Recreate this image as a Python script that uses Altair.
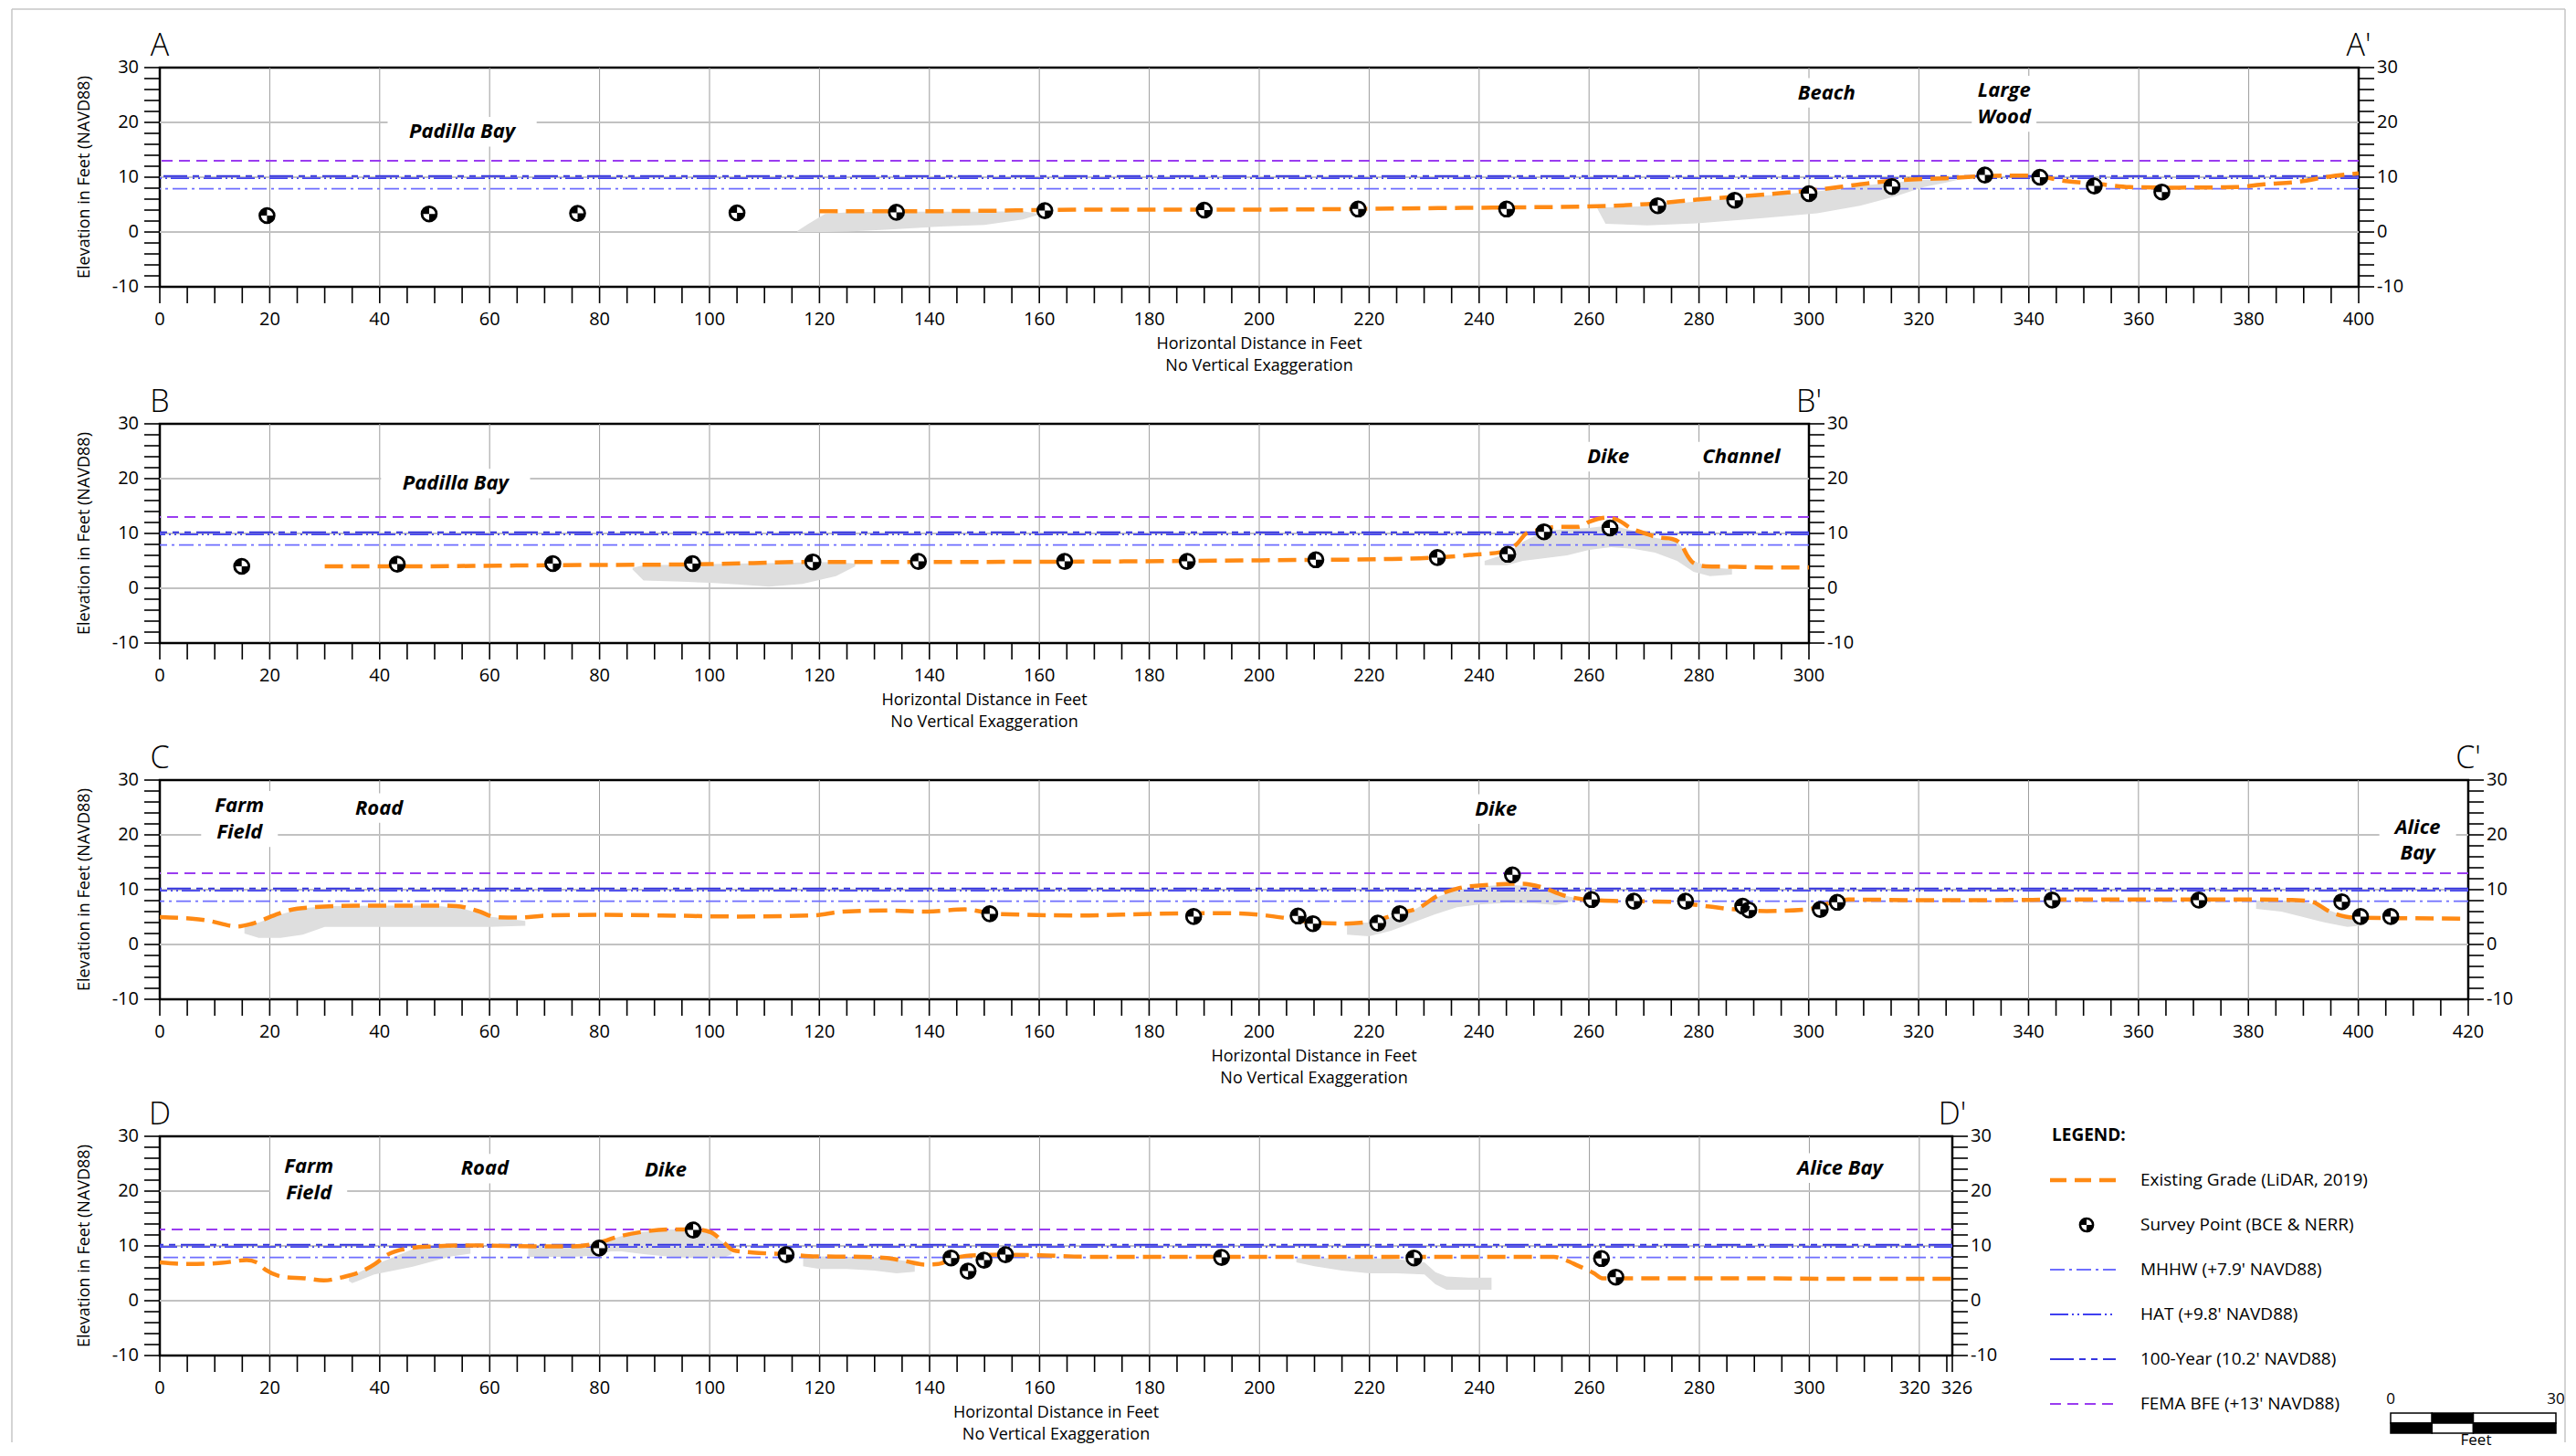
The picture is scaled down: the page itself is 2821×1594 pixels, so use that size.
import altair as alt
import pandas as pd

# ======================= DATA =======================
# ---- Section A - A' ----
A_XMAX = 400
A_GRADE_X = [120, 130, 140, 152.6, 160, 173.7, 200, 226.3, 237, 247.4, 261.5, 270.5, 279.6, 292.5, 301.5,
             309.3, 315.7, 324.8, 335.1, 340.3, 346.7, 353.2, 358.3, 366, 377.7, 382.8, 389.3, 394.5, 400]
A_GRADE_Y = [3.8, 3.8, 3.8, 3.9, 4.0, 4.1, 4.1, 4.3, 4.4, 4.5, 4.7, 5.1, 5.9, 6.9, 7.7,
             8.7, 9.4, 9.8, 10.3, 10.3, 9.3, 8.7, 8.2, 8.1, 8.2, 8.7, 9.2, 10.1, 10.7]
A_PTS_X = [19.5, 49, 76, 105, 134, 161, 190, 218, 245, 272.5, 286.5, 300, 315.1, 332, 342, 351.9, 364.2]
A_PTS_Y = [3.0, 3.3, 3.4, 3.5, 3.6, 3.9, 4.0, 4.2, 4.2, 4.8, 5.8, 7.0, 8.3, 10.4, 10.0, 8.4, 7.3]
A_HATCH = [
    ([116, 118, 121, 125, 132, 142, 150, 157, 160],
     [0.2, 1.5, 3.3, 3.6, 3.7, 3.7, 3.7, 3.8, 3.3],
     [0.0, 0.0, 0.0, 0.1, 0.4, 1.0, 1.3, 2.3, 3.2]),
    ([261.5, 263, 270.6, 279.6, 291.2, 301.5, 309.3, 315.7, 320.9, 324.8, 327],
     [4.5, 4.5, 4.7, 5.6, 6.6, 7.4, 8.4, 9.1, 9.5, 9.6, 9.6],
     [4.3, 1.5, 1.2, 1.6, 2.5, 3.4, 4.8, 6.5, 8.2, 9.0, 9.5]),
]
A_LABELS = [("Padilla Bay", 55, 18.3), ("Beach", 303.2, 25.4), ("Large", 335.5, 25.8), ("Wood", 335.5, 21.0)]

# ---- Section B - B' ----
B_XMAX = 300
B_GRADE_X = [30, 43, 70.8, 100, 118.5, 140, 175.4, 200, 221.5, 232, 238.6, 244, 246.9, 248.6, 251.9, 254,
             258, 260.2, 263.3, 265.1, 267.9, 270.2, 272.4, 275.1, 276.7, 277.8, 278.9, 281.2, 286.7, 292.2, 300]
B_GRADE_Y = [4.0, 4.0, 4.2, 4.4, 4.8, 4.8, 4.9, 5.1, 5.3, 5.6, 6.1, 6.6, 8.1, 10.0, 10.8, 11.2,
             11.2, 12.2, 12.9, 12.5, 10.8, 10.0, 9.3, 9.0, 8.1, 6.1, 4.7, 4.0, 3.9, 3.8, 3.8]
B_PTS_X = [14.9, 43.2, 71.5, 96.9, 118.8, 138, 164.6, 186.9, 210.3, 232.4, 245.2, 251.8, 263.8]
B_PTS_Y = [4.0, 4.4, 4.5, 4.5, 4.8, 4.9, 4.9, 4.9, 5.2, 5.6, 6.2, 10.3, 11.0]
B_HATCH = [
    ([86, 88, 95, 100, 105, 110.8, 116.9, 123, 126.5],
     [3.7, 4.2, 4.3, 4.4, 4.5, 4.6, 4.7, 4.8, 4.5],
     [3.4, 1.4, 1.2, 1.0, 0.7, 0.3, 0.8, 2.2, 4.0]),
    ([241, 245, 248, 252, 256, 260, 264, 268, 272, 276, 279, 282, 286],
     [5.0, 6.3, 8.5, 10.5, 10.8, 11.0, 11.5, 10.5, 9.2, 8.5, 5.0, 3.8, 3.5],
     [4.2, 4.2, 5.0, 5.5, 6.0, 7.0, 7.5, 7.2, 6.5, 5.0, 3.0, 2.2, 2.5]),
]
B_LABELS = [("Padilla Bay", 53.8, 19.1), ("Dike", 263.5, 24.0), ("Channel", 287.7, 24.0)]

# ---- Section C - C' ----
C_XMAX = 420
C_GRADE_X = [0, 5.8, 8.5, 14.1, 16.8, 21, 23.7, 27.9, 36.1, 50, 54, 58.2, 61, 65.1, 70.6, 80.3, 91.3, 105,
             118.9, 124.4, 132.8, 139.6, 146.5, 152, 167, 181, 194.7, 200.4, 204.9, 209.3, 215.3, 219.7,
             225.6, 229.3, 232.3, 236, 240.5, 247.9, 251.6, 255.3, 260.5, 267.2, 274.6, 280.5, 286.5,
             292.4, 299.8, 304.3, 307.2, 319.1, 334, 348.8, 363.6, 378.5, 388.8, 391.8, 394.8, 399.2,
             408.1, 420]
C_GRADE_Y = [5.0, 4.7, 4.4, 3.3, 3.8, 5.4, 6.3, 6.8, 7.1, 7.1, 7.0, 6.0, 5.0, 4.9, 5.3, 5.4, 5.3, 5.1,
             5.3, 6.0, 6.2, 6.0, 6.4, 5.6, 5.3, 5.6, 5.7, 5.4, 4.8, 4.1, 3.8, 4.1,
             5.7, 6.8, 8.8, 10.2, 10.8, 11.1, 10.4, 9.0, 8.1, 7.9, 7.8, 7.1, 6.4,
             6.1, 6.4, 7.7, 8.2, 8.1, 8.1, 8.2, 8.2, 8.2, 8.1, 7.7, 6.0, 4.9,
             4.8, 4.7]
C_PTS_X = [151, 188.1, 207.1, 209.8, 221.6, 225.6, 246.1, 260.5, 268.2, 277.6, 288, 289.1, 302.1, 305.2,
           344.3, 371, 397, 400.4, 405.9]
C_PTS_Y = [5.6, 5.1, 5.2, 3.8, 3.9, 5.6, 12.7, 8.2, 7.9, 7.9, 7.0, 6.3, 6.4, 7.7,
           8.1, 8.1, 7.8, 5.1, 5.1]
C_HATCH = [
    ([15.4, 18, 22, 26, 30, 40, 50, 55, 60, 66.5],
     [3.5, 4.0, 5.5, 6.6, 7.0, 7.1, 7.1, 6.6, 5.1, 4.3],
     [2.0, 1.2, 1.2, 1.8, 3.2, 3.2, 3.2, 3.2, 3.2, 3.4]),
    ([216, 220, 224, 228, 232, 236, 240, 245, 250, 254, 257.5],
     [3.9, 4.0, 5.0, 6.2, 8.5, 10.0, 10.6, 10.9, 10.6, 9.3, 8.5],
     [1.8, 1.5, 2.5, 4.0, 5.5, 6.8, 7.3, 7.6, 7.5, 7.2, 8.0]),
    ([381.4, 386, 390, 394, 398, 401],
     [8.0, 8.0, 7.9, 6.5, 5.0, 4.8],
     [6.5, 6.0, 5.0, 4.0, 3.2, 3.5]),
]
C_LABELS = [("Farm", 14.5, 25.3), ("Field", 14.5, 20.5), ("Road", 39.9, 24.9), ("Dike", 243.1, 24.7),
            ("Alice", 410.8, 21.4), ("Bay", 410.8, 16.6)]

# ---- Section D - D' ----
D_XMAX = 326
D_GRADE_X = [0, 5.4, 11.2, 15.8, 17.6, 19.3, 22.8, 26.3, 29.8, 33.3, 36.8, 39.1, 41.4, 44.9, 49.6, 56.6,
             62.4, 69.4, 75.2, 79.9, 83.4, 88, 92.7, 97.3, 100.2, 102.6, 104.3, 107.8, 113.6, 119.4,
             127.6, 132.2, 135.7, 139.2, 141.6, 144.5, 148.5, 153.2, 160.2, 169.5, 173.3, 195.6, 217.9,
             240.1, 253.5, 255.7, 257.9, 260.7, 262.4, 268, 284.7, 306.9, 326]
D_GRADE_Y = [7.0, 6.7, 6.9, 7.4, 7.0, 5.6, 4.3, 4.1, 3.7, 4.3, 5.4, 6.7, 8.4, 9.5, 9.9, 10.1,
             10.0, 9.9, 9.9, 10.6, 11.7, 12.6, 13.0, 13.0, 12.5, 10.6, 9.2, 8.8, 8.5, 8.1,
             8.0, 7.8, 7.2, 6.6, 6.7, 7.8, 8.3, 8.4, 8.3, 8.0, 8.0, 8.0, 8.0,
             8.0, 8.0, 7.4, 6.4, 5.1, 4.1, 4.1, 4.1, 4.0, 4.0]
D_PTS_X = [79.9, 97, 113.9, 143.9, 147, 149.9, 153.8, 193.1, 228.1, 262.2, 264.8]
D_PTS_Y = [9.6, 12.9, 8.4, 7.8, 5.4, 7.4, 8.4, 7.9, 7.8, 7.7, 4.3]
D_HATCH = [
    ([34.4, 35, 39, 46, 53, 56.5],
     [4.3, 4.6, 6.5, 9.4, 9.9, 10.0],
     [3.6, 3.2, 4.8, 6.2, 8.1, 8.6]),
    ([67, 75, 79, 82, 84, 88, 93, 97, 100, 102.5, 104],
     [9.9, 9.9, 10.4, 11.2, 11.8, 12.6, 13.0, 13.0, 12.5, 10.6, 8.8],
     [8.0, 8.0, 8.2, 9.0, 9.0, 8.5, 8.0, 7.8, 7.8, 7.8, 8.5]),
    ([117, 120, 125, 130, 134, 137.3],
     [8.2, 8.1, 8.0, 7.9, 7.5, 7.0],
     [6.3, 5.8, 5.8, 5.5, 5.0, 5.3]),
    ([206.7, 210, 215, 220, 225, 230, 232, 234, 238, 242.2],
     [7.8, 7.8, 7.8, 7.8, 7.6, 7.0, 5.2, 4.4, 4.2, 4.2],
     [7.0, 6.3, 5.5, 5.0, 5.0, 4.8, 3.0, 2.0, 2.0, 2.0]),
]
D_LABELS = [("Farm", 27.1, 24.5), ("Field", 27.1, 19.7), ("Road", 59.1, 24.1), ("Dike", 92, 23.9),
            ("Alice Bay", 305.6, 24.2)]

# ---- water levels ----
LEVEL_NAMES = ["MHHW (+7.9' NAVD88)", "HAT (+9.8' NAVD88)", "100-Year (10.2' NAVD88)", "FEMA BFE (+13' NAVD88)"]
LEVEL_VALUES = [7.9, 9.8, 10.2, 13.0]
GRADE_NAME = "Existing Grade (LiDAR, 2019)"
POINT_NAME = "Survey Point (BCE & NERR)"

Y_TICKS = list(range(-10, 31, 2))
Y_LABELS = [-10, 0, 10, 20, 30]
H_GRID = [0, 10, 20]
X_TITLE = ["Horizontal Distance in Feet", "No Vertical Exaggeration"]
Y_TITLE = "Elevation in Feet (NAVD88)"

# ======================= STYLE =======================
PX = 6.02
PLOT_H = 240
FONT = "Open Sans"
ORANGE = "#ff8a14"
GRID_V = "#9c9c9c"
GRID_H = "#c2c2c2"
HATCH_FILL = "#dedede"
LEVEL_STYLES = [
    dict(color="#6e6eff", strokeDash=[16, 5, 3, 5], strokeWidth=1.8),
    dict(color="#4040f0", strokeDash=[20, 4, 2, 4, 2, 4], strokeWidth=1.8),
    dict(color="#3434e0", strokeDash=[26, 6, 7, 6, 7, 6], strokeWidth=2.0),
    dict(color="#9a3cf0", strokeDash=[12, 7], strokeWidth=1.8),
]
GRADE_STYLE = dict(color=ORANGE, strokeWidth=4.5, strokeDash=[20, 9])
CIRCLE = "M1,0A1,1,0,1,1,-1,0A1,1,0,1,1,1,0Z"
QUADS = "M0,0L-1,0A1,1,0,0,1,0,-1ZM0,0L1,0A1,1,0,0,1,0,1Z"
PT_SIZE = 250
CHAR_PX = 13.2
BOX_H = 2.7
TICK_Y = 17
TICK_X = 18
AX_FONT = 20
LABEL_NUDGE = {320: -5, 326: 5}   # pixel nudges for crowded end labels


def make_panel(letter, xmax, gx, gy, sx, sy, hatches, labels, tick_vals, label_vals, extra=()):
    W = round(xmax * PX)
    xs = alt.Scale(domain=[0, xmax], nice=False, zero=False)
    ys = alt.Scale(domain=[-10, 30], nice=False, zero=False)

    def X(f):
        return alt.X(f, scale=xs, axis=None)

    def Y(f):
        return alt.Y(f, scale=ys, axis=None)

    layers = []
    # grid
    layers.append(alt.Chart(pd.DataFrame({"gx": list(range(20, xmax, 20))})).mark_rule(
        color=GRID_V, strokeWidth=1).encode(x=X("gx:Q")))
    layers.append(alt.Chart(pd.DataFrame({"gy": H_GRID})).mark_rule(
        color=GRID_H, strokeWidth=2.2).encode(y=Y("gy:Q")))

    # x axis: ticks, labels, title
    layers.append(alt.Chart(pd.DataFrame({"xt": tick_vals})).mark_rule(color="black", strokeWidth=1.6).encode(
        x=X("xt:Q"), y=alt.value(PLOT_H), y2=alt.value(PLOT_H + TICK_X)))
    nudges = {}
    for v in label_vals:
        nudges.setdefault(LABEL_NUDGE.get(v, 0) if (xmax in LABEL_NUDGE and v in LABEL_NUDGE) else 0, []).append(v)
    for dx, vals in nudges.items():
        layers.append(alt.Chart(pd.DataFrame({"xl": vals, "xs": [str(v) for v in vals]})).mark_text(
            font=FONT, fontSize=AX_FONT, baseline="middle", dx=dx, color="black").encode(
            x=X("xl:Q"), y=alt.value(PLOT_H + 36), text="xs:N"))
    for k, line in enumerate(X_TITLE):
        layers.append(alt.Chart(pd.DataFrame({"t": [line]})).mark_text(
            font=FONT, fontSize=18, baseline="middle", color="black").encode(
            x=alt.value(W / 2), y=alt.value(PLOT_H + 63 + 24 * k), text="t:N"))

    # left y axis
    layers.append(alt.Chart(pd.DataFrame({"yt": Y_TICKS})).mark_rule(color="black", strokeWidth=1.6).encode(
        y=Y("yt:Q"), x=alt.value(-TICK_Y), x2=alt.value(0)))
    ylab = pd.DataFrame({"yl": Y_LABELS, "ys": [str(v) for v in Y_LABELS]})
    layers.append(alt.Chart(ylab).mark_text(
        font=FONT, fontSize=AX_FONT, align="right", baseline="middle", color="black").encode(
        y=Y("yl:Q"), x=alt.value(-TICK_Y - 6), text="ys:N"))
    layers.append(alt.Chart(pd.DataFrame({"t": [Y_TITLE]})).mark_text(
        font=FONT, fontSize=18, angle=270, baseline="middle", color="black").encode(
        x=alt.value(-82), y=alt.value(PLOT_H / 2), text="t:N"))

    # right y axis
    layers.append(alt.Chart(pd.DataFrame({"rt": Y_TICKS})).mark_rule(color="black", strokeWidth=1.6).encode(
        y=Y("rt:Q"), x=alt.value(W), x2=alt.value(W + TICK_Y)))
    layers.append(alt.Chart(ylab).mark_text(
        font=FONT, fontSize=AX_FONT, align="left", baseline="middle", color="black").encode(
        y=Y("yl:Q"), x=alt.value(W + TICK_Y + 3), text="ys:N"))

    # white boxes behind the place labels
    ldf = pd.DataFrame({"text": [l[0] for l in labels], "lx": [l[1] for l in labels],
                        "ly": [l[2] for l in labels]})
    half_w = (ldf["text"].str.len() * CHAR_PX / 2 + 9) / PX
    ldf["bx0"] = ldf["lx"] - half_w
    ldf["bx1"] = ldf["lx"] + half_w
    ldf["by0"] = ldf["ly"] - BOX_H
    ldf["by1"] = ldf["ly"] + BOX_H
    layers.append(alt.Chart(ldf).mark_rect(color="white").encode(
        x=X("bx0:Q"), x2="bx1:Q", y=Y("by0:Q"), y2="by1:Q"))

    # hatched fill areas
    rows = []
    for i, (hx, ht, hb) in enumerate(hatches):
        for a, b, c in zip(hx, ht, hb):
            rows.append({"hx": a, "top": b, "bot": c, "grp": i})
    layers.append(alt.Chart(pd.DataFrame(rows)).mark_area(color=HATCH_FILL, opacity=1).encode(
        x=X("hx:Q"), y=Y("top:Q"), y2="bot:Q", detail="grp:N"))

    # water levels
    for val, st in zip(LEVEL_VALUES, LEVEL_STYLES):
        layers.append(alt.Chart(pd.DataFrame({"lv": [val]})).mark_rule(**st).encode(y=Y("lv:Q")))

    # existing grade
    layers.append(alt.Chart(pd.DataFrame({"gx": gx, "gy": gy})).mark_line(
        interpolate="monotone", **GRADE_STYLE).encode(x=X("gx:Q"), y=Y("gy:Q")))

    # survey points
    pts = pd.DataFrame({"px": sx, "py": sy})
    layers.append(alt.Chart(pts).mark_point(shape=CIRCLE, size=PT_SIZE, filled=True, fill="white",
                                            stroke="black", strokeWidth=2.8, opacity=1).encode(
        x=X("px:Q"), y=Y("py:Q")))
    layers.append(alt.Chart(pts).mark_point(shape=QUADS, size=PT_SIZE, filled=True, color="black",
                                            opacity=1).encode(x=X("px:Q"), y=Y("py:Q")))

    # place labels
    layers.append(alt.Chart(ldf).mark_text(font=FONT, fontSize=22, fontStyle="italic", fontWeight="bold",
                                           color="black").encode(
        x=X("lx:Q"), y=Y("ly:Q"), text="text:N"))

    # section letters
    layers.append(alt.Chart(pd.DataFrame({"t": [letter, letter + "'"], "lx": [0, xmax]})).mark_text(
        font=FONT, fontSize=34, fontWeight=300, baseline="alphabetic", color="black").encode(
        x=X("lx:Q"), y=alt.value(-13), text="t:N"))

    for e in extra:
        layers += e(xs, ys)

    return alt.layer(*layers).properties(width=W, height=PLOT_H)


def frame(xs, ys):
    one = pd.DataFrame({"k": [0]})
    st = dict(color="#c6c6c6", strokeWidth=1.5)
    return [
        alt.Chart(one).mark_rule(**st).encode(x=alt.value(-162), x2=alt.value(2634), y=alt.value(-64)),
        alt.Chart(one).mark_rule(**st).encode(x=alt.value(-162), y=alt.value(-64), y2=alt.value(1505)),
        alt.Chart(one).mark_rule(**st).encode(x=alt.value(2634), y=alt.value(-64), y2=alt.value(1505)),
    ]


LEG_X = 2070
LEG_TXT_X = 2169
LEG_Y0 = 48
LEG_DY = 49
SB_X0 = 2443
SB_W = 181
SB_Y0 = 303
SB_RH = 11
LEG_FONT = 19


def legend(xs, ys):
    out = []
    out.append(alt.Chart(pd.DataFrame({"t": ["LEGEND:"]})).mark_text(
        font=FONT, fontSize=LEG_FONT, fontWeight="bold", align="left", baseline="middle", color="black").encode(
        x=alt.value(LEG_X + 2), y=alt.value(-1), text="t:N"))
    labels = [GRADE_NAME, POINT_NAME] + LEVEL_NAMES
    for i, lab in enumerate(labels):
        yy = LEG_Y0 + i * LEG_DY
        out.append(alt.Chart(pd.DataFrame({"t": [lab]})).mark_text(
            font=FONT, fontSize=LEG_FONT, align="left", baseline="middle", color="black").encode(
            x=alt.value(LEG_TXT_X), y=alt.value(yy), text="t:N"))
    one = pd.DataFrame({"k": [0]})
    out.append(alt.Chart(one).mark_rule(color=ORANGE, strokeWidth=4.5, strokeDash=[18, 9]).encode(
        x=alt.value(LEG_X), x2=alt.value(LEG_X + 72), y=alt.value(LEG_Y0)))
    out.append(alt.Chart(one).mark_point(shape=CIRCLE, size=PT_SIZE * 0.8, filled=True, fill="white",
                                         stroke="black", strokeWidth=2.6, opacity=1).encode(
        x=alt.value(LEG_X + 40), y=alt.value(LEG_Y0 + LEG_DY)))
    out.append(alt.Chart(one).mark_point(shape=QUADS, size=PT_SIZE * 0.8, filled=True, color="black",
                                         opacity=1).encode(
        x=alt.value(LEG_X + 40), y=alt.value(LEG_Y0 + LEG_DY)))
    for i, st in enumerate(LEVEL_STYLES):
        yy = LEG_Y0 + (i + 2) * LEG_DY
        out.append(alt.Chart(one).mark_rule(**st).encode(
            x=alt.value(LEG_X), x2=alt.value(LEG_X + 72), y=alt.value(yy)))
    # scale bar
    fr = [0, 0.25, 0.5, 1.0]
    fills_top = ["white", "black", "white"]
    fills_bot = ["black", "white", "black"]
    for row, fills in enumerate([fills_top, fills_bot]):
        for j in range(3):
            out.append(alt.Chart(one).mark_rect(fill=fills[j], stroke="black", strokeWidth=1.5).encode(
                x=alt.value(SB_X0 + fr[j] * SB_W), x2=alt.value(SB_X0 + fr[j + 1] * SB_W),
                y=alt.value(SB_Y0 + row * SB_RH), y2=alt.value(SB_Y0 + (row + 1) * SB_RH)))
    for t, xx in [("0", SB_X0), ("30", SB_X0 + SB_W)]:
        out.append(alt.Chart(pd.DataFrame({"t": [t]})).mark_text(
            font=FONT, fontSize=17, baseline="middle", color="black").encode(
            x=alt.value(xx), y=alt.value(SB_Y0 - 15), text="t:N"))
    out.append(alt.Chart(pd.DataFrame({"t": ["Feet"]})).mark_text(
        font=FONT, fontSize=17, baseline="middle", color="black").encode(
        x=alt.value(SB_X0 + SB_W / 2 + 3), y=alt.value(SB_Y0 + 2 * SB_RH + 8), text="t:N"))
    return out


panel_a = make_panel("A", A_XMAX, A_GRADE_X, A_GRADE_Y, A_PTS_X, A_PTS_Y, A_HATCH, A_LABELS,
                     list(range(0, A_XMAX + 1, 5)), list(range(0, A_XMAX + 1, 20)), extra=[frame])
panel_b = make_panel("B", B_XMAX, B_GRADE_X, B_GRADE_Y, B_PTS_X, B_PTS_Y, B_HATCH, B_LABELS,
                     list(range(0, B_XMAX + 1, 5)), list(range(0, B_XMAX + 1, 20)))
panel_c = make_panel("C", C_XMAX, C_GRADE_X, C_GRADE_Y, C_PTS_X, C_PTS_Y, C_HATCH, C_LABELS,
                     list(range(0, C_XMAX + 1, 5)), list(range(0, C_XMAX + 1, 20)))
panel_d = make_panel("D", D_XMAX, D_GRADE_X, D_GRADE_Y, D_PTS_X, D_PTS_Y, D_HATCH, D_LABELS,
                     list(range(0, D_XMAX, 5)) + [D_XMAX], list(range(0, D_XMAX, 20)) + [D_XMAX],
                     extra=[legend])

chart = alt.vconcat(panel_a, panel_b, panel_c, panel_d, spacing=150, bounds="flush").properties(
    padding={"left": 3, "top": 0, "right": 0, "bottom": 0}
).configure_view(stroke="black", strokeWidth=2.5)

chart.save("out.html", embed_options={"renderer": "svg", "actions": False})
